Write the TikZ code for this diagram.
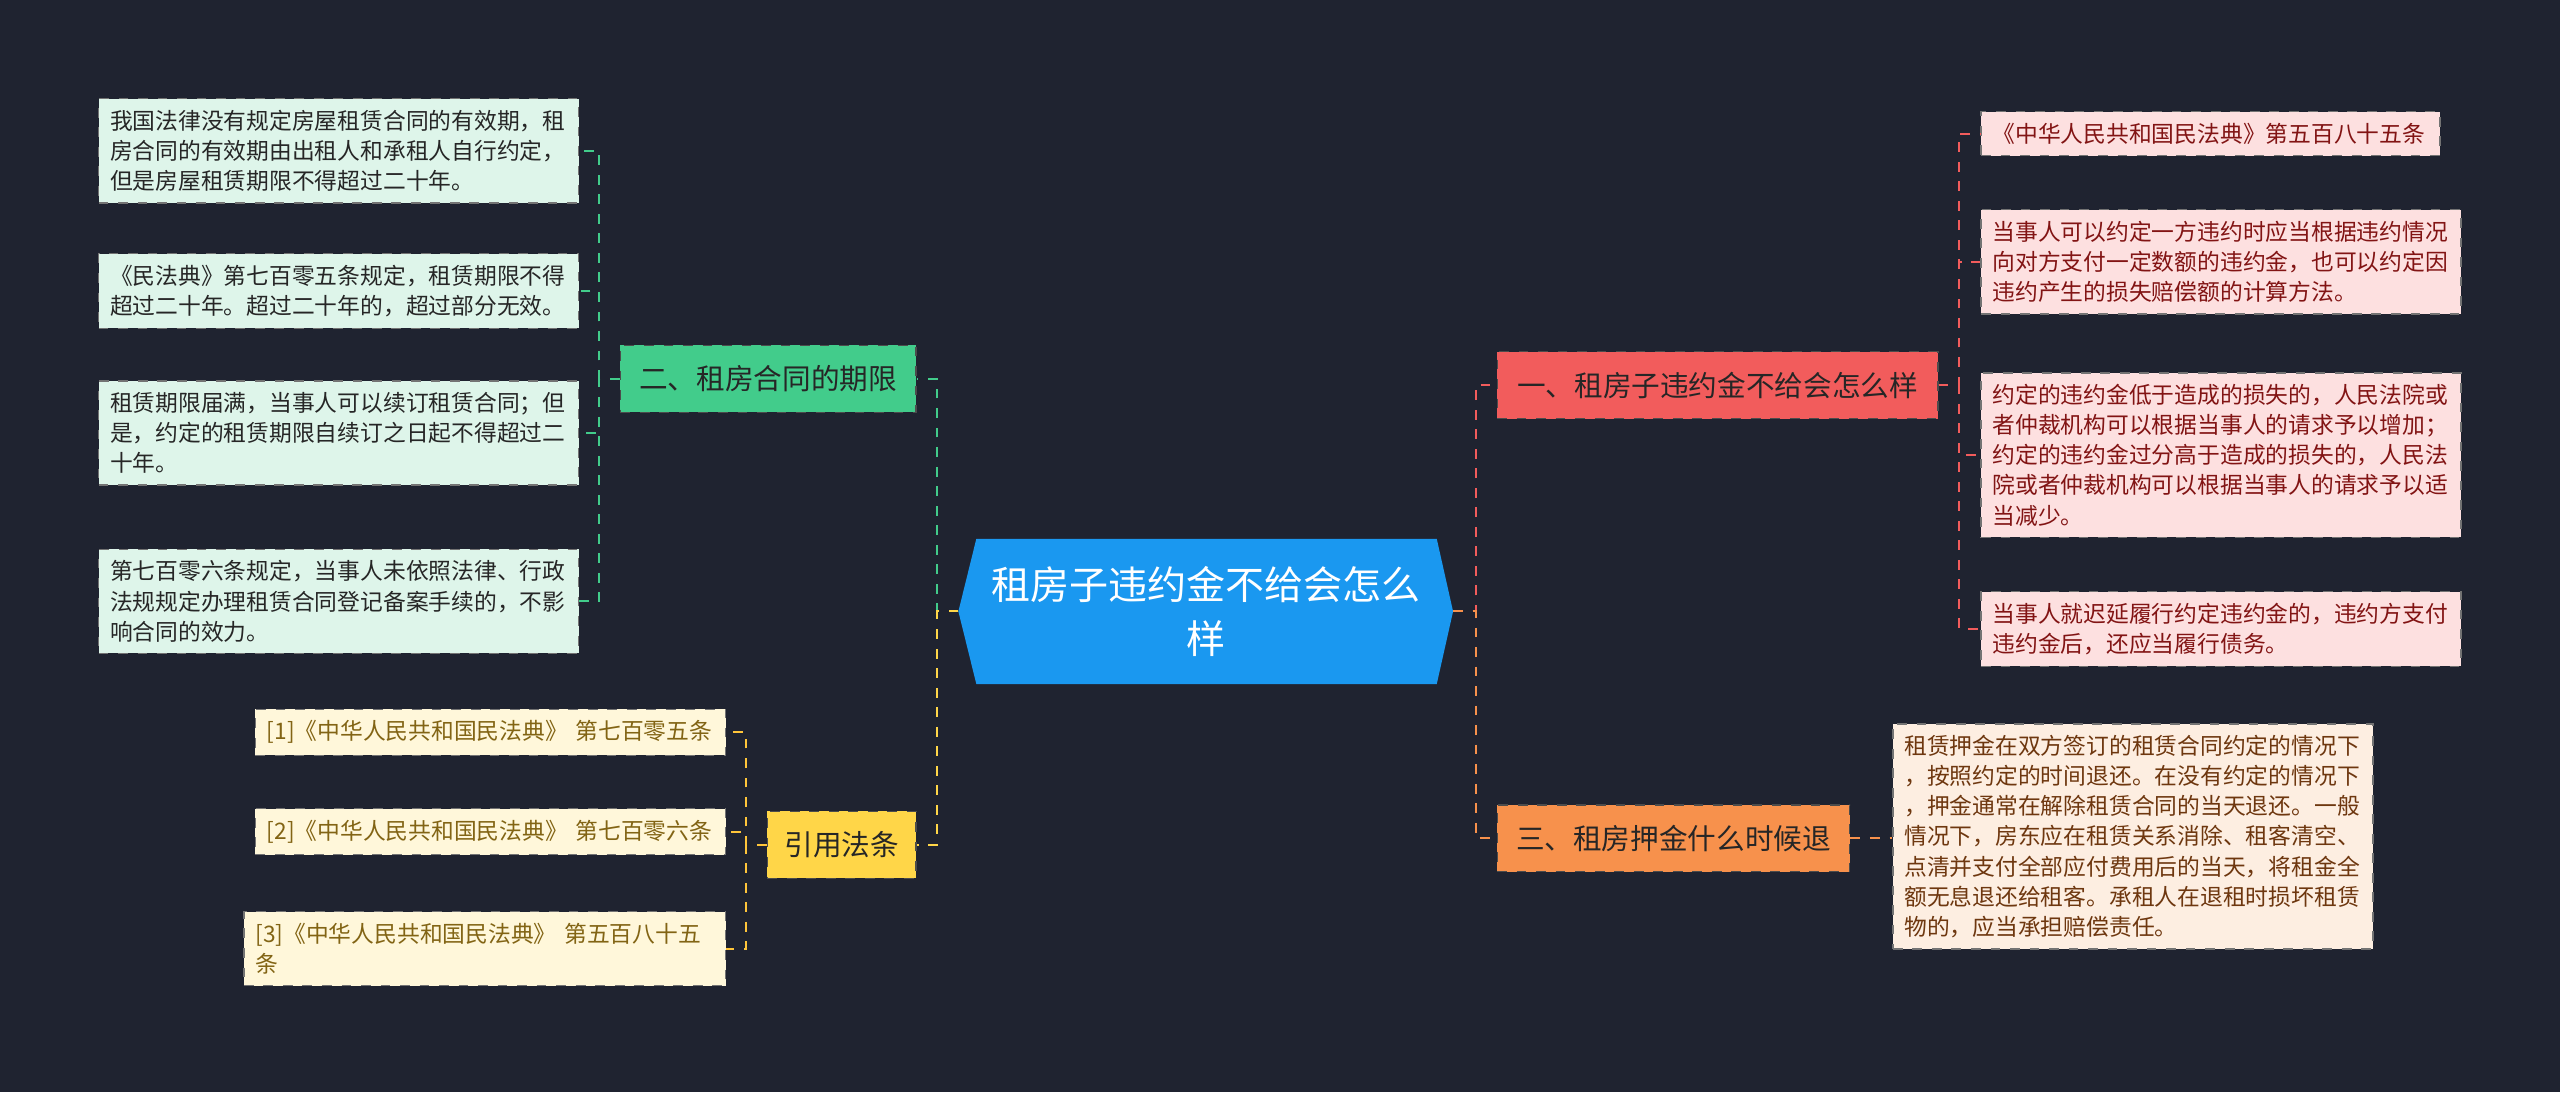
\documentclass[tikz,border=0pt]{standalone}
\usepackage{fontspec}
\setmainfont{Noto Sans CJK SC}
\usetikzlibrary{positioning}
\definecolor{bgdark}{RGB}{31, 35, 48}
\definecolor{ctrblue}{RGB}{26, 152, 240}
\definecolor{mgreen}{RGB}{66, 204, 139}
\definecolor{lgreen}{RGB}{222, 245, 234}
\definecolor{myellow}{RGB}{255, 214, 72}
\definecolor{lyellow}{RGB}{255, 247, 218}
\definecolor{tyellow}{RGB}{130, 100, 20}
\definecolor{mred}{RGB}{242, 92, 92}
\definecolor{lred}{RGB}{253, 224, 224}
\definecolor{tred}{RGB}{130, 20, 20}
\definecolor{morange}{RGB}{247, 145, 76}
\definecolor{lorange}{RGB}{253, 238, 225}
\definecolor{torange}{RGB}{110, 55, 15}
\tikzset{
  topic/.style = {draw = black!70, dashed, inner sep = 4bp, minimum height = 20.5bp, font = \fontsize{8.8}{10}\selectfont, text = black!85},
  leaf/.style = {draw = black!55, dashed, inner xsep = 3.5bp, inner ysep = 3.5bp, align = left, font = \fontsize{7}{9.25}\selectfont, anchor = north west},
  conn/.style = {dashed, line width = 0.6bp}
}
\begin{document}
\begin{tikzpicture}[x = 0.5bp, y = -0.5bp]
\fill[bgdark] (0,0) rectangle (1568,669);
\useasboundingbox (0,0) rectangle (1568,669);
% centre
\fill[ctrblue] (598,330) -- (880,330) -- (890,374.5) -- (880,419) -- (598,419) -- (587,374.5) -- cycle;
\node[text = white, align = center, font = \fontsize{12}{16.5}\selectfont] (ctr) at (738.5,374.5) {租房子违约金不给会怎么\\样};
\coordinate (ctrW) at (587,374.5);
\coordinate (ctrE) at (890,374.5);
% main topics
\node[topic, fill = mgreen, minimum width = 90.5bp] (limit) at (470.5,232) {二、租房合同的期限};
\node[topic, fill = myellow, minimum width = 45.5bp] (cite) at (515.5,517.5) {引用法条};
\node[topic, fill = mred, minimum width = 135bp] (fine) at (1052,236) {一、租房子违约金不给会怎么样};
\node[topic, fill = morange, minimum width = 108bp] (deposit) at (1025,513.5) {三、租房押金什么时候退};
% left leaves
\node[leaf, fill = lgreen, text = black!85, text width = 140bp] (g1) at (60,60) {我国法律没有规定房屋租赁合同的有效期，租\\房合同的有效期由出租人和承租人自行约定，\\但是房屋租赁期限不得超过二十年。};
\node[leaf, fill = lgreen, text = black!85, text width = 140bp] (g2) at (60,155) {《民法典》第七百零五条规定，租赁期限不得\\超过二十年。超过二十年的，超过部分无效。};
\node[leaf, fill = lgreen, text = black!85, text width = 140bp] (g3) at (60,233) {租赁期限届满，当事人可以续订租赁合同；但\\是，约定的租赁期限自续订之日起不得超过二\\十年。};
\node[leaf, fill = lgreen, text = black!85, text width = 140bp] (g4) at (60,336) {第七百零六条规定，当事人未依照法律、行政\\法规规定办理租赁合同登记备案手续的，不影\\响合同的效力。};
\node[leaf, fill = lyellow, text = tyellow, text width = 137bp] (y1) at (156,434) {[1]《中华人民共和国民法典》 第七百零五条};
\node[leaf, fill = lyellow, text = tyellow, text width = 137bp] (y2) at (156,495) {[2]《中华人民共和国民法典》 第七百零六条};
\node[leaf, fill = lyellow, text = tyellow, text width = 140.5bp] (y3) at (149,558) {[3]《中华人民共和国民法典》 第五百八十五\\条};
% right leaves
\node[leaf, fill = lred, text = tred, text width = 133.5bp] (r1) at (1213,68) {《中华人民共和国民法典》第五百八十五条};
\node[leaf, fill = lred, text = tred, text width = 140bp] (r2) at (1213,128) {当事人可以约定一方违约时应当根据违约情况\\向对方支付一定数额的违约金，也可以约定因\\违约产生的损失赔偿额的计算方法。};
\node[leaf, fill = lred, text = tred, text width = 140bp] (r3) at (1213,228) {约定的违约金低于造成的损失的，人民法院或\\者仲裁机构可以根据当事人的请求予以增加；\\约定的违约金过分高于造成的损失的，人民法\\院或者仲裁机构可以根据当事人的请求予以适\\当减少。};
\node[leaf, fill = lred, text = tred, text width = 140bp] (r4) at (1213,362) {当事人就迟延履行约定违约金的，违约方支付\\违约金后，还应当履行债务。};
\node[leaf, fill = lorange, text = torange, text width = 140bp] (o1) at (1159,443) {租赁押金在双方签订的租赁合同约定的情况下\\，按照约定的时间退还。在没有约定的情况下\\，押金通常在解除租赁合同的当天退还。一般\\情况下，房东应在租赁关系消除、租客清空、\\点清并支付全部应付费用后的当天，将租金全\\额无息退还给租客。承租人在退租时损坏租赁\\物的，应当承担赔偿责任。};
% connectors
\draw[conn, mgreen] (ctrW) -- (574,374.5) |- (limit.east);
\draw[conn, myellow] (ctrW) -- (574,374.5) |- (cite.east);
\draw[conn, mred] (ctrE) -- (904,374.5) |- (fine.west);
\draw[conn, morange] (ctrE) -- (904,374.5) |- (deposit.west);
\foreach \n in {g1,g2,g3,g4}
  \draw[conn, mgreen] (limit.west) -- (367,232) |- (\n.east);
\foreach \n in {y1,y2,y3}
  \draw[conn, myellow!80!orange] (cite.west) -- (457,517.5) |- (\n.east);
\foreach \n in {r1,r2,r3,r4}
  \draw[conn, mred] (fine.east) -- (1200,236) |- (\n.west);
\draw[conn, morange] (deposit.east) -- (o1.west |- deposit.east);
\end{tikzpicture}
\end{document}
